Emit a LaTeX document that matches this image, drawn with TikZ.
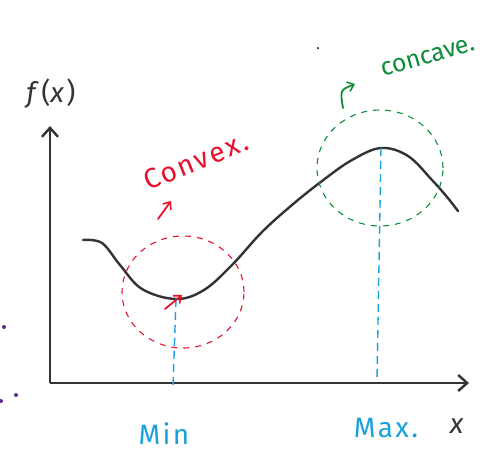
\documentclass[tikz,border=0pt]{standalone}
\usepackage{fontspec}
\setmainfont{Fira Sans}
\usetikzlibrary{arrows.meta, positioning}
\definecolor{inkblack}{HTML}{333333}
\definecolor{inkred}{HTML}{E8112D}
\definecolor{inkgreen}{HTML}{0E8C3A}
\definecolor{inkblue}{HTML}{1BA1DE}
\definecolor{inkpurple}{HTML}{5B2C8F}

\begin{document}
\begin{tikzpicture}[x=1pt, y=-1pt,
    axis/.style={line width=2.6pt, color=inkblack,
      -{Straight Barb[length=9pt, width=16pt, line width=2.4pt]}},
    curve/.style={line width=2.4pt, color=inkblack, line cap=round},
    zone/.style={line width=1.1pt, dash pattern=on 6pt off 6pt},
    guide/.style={line width=1.4pt, color=inkblue, dash pattern=on 8pt off 5pt},
    pointer/.style={line width=1.8pt, line cap=round,
      -{Straight Barb[length=6pt, width=10pt, line width=1.6pt]}},
    label/.style={font=\fontsize{28}{30}\selectfont\addfontfeatures{LetterSpace=8},
      inner sep=0pt},
    dot/.style={circle, fill=inkpurple, inner sep=0pt, minimum size=4pt},
]
\useasboundingbox (0,0) rectangle (493,451);
% Axes
\coordinate (origin) at (50,383);
\coordinate (ytop) at (50,126);
\coordinate (xend) at (469,383);
\draw[axis] (origin) -- (ytop);
\draw[axis] (origin) -- (xend);
\node[label, color=inkblack] (fx) at (51,94) {\textit{f}(\textit{x})};
\node[label, color=inkblack] (xlab) at (458,426) {\textit{x}};
% Curve
\coordinate (minpt) at (176,299);
\coordinate (maxpt) at (381,148);
\draw[curve] plot[smooth, tension=0.6] coordinates {
    (83,240) (102,243) (120,265) (142,289) (minpt) (204,290) (232,265)
    (262,232) (292,205) (322,181) (352,160) (maxpt) (408,156) (432,180)
    (447,197) (458,211)};
% Regions
\draw[zone, color=inkred] (183,292) ellipse [x radius=61pt, y radius=56pt];
\draw[zone, color=inkgreen] (380,168) ellipse [x radius=63pt, y radius=58pt];
% Min and max guides
\coordinate (minfoot) at (173,386);
\coordinate (maxfoot) at (377,381);
\draw[guide] (minpt) -- (minfoot);
\draw[guide] (maxpt) -- (maxfoot);
\node[label, color=inkblue] (minlab) at (164,434) {Min};
\node[label, color=inkblue] (maxlab) at (386,428) {Max.};
% Captions
\node[label, color=inkred, rotate=22] (convex) at (196,161) {Convex.};
\node[label, color=inkgreen, rotate=16,
      font=\fontsize{25}{27}\selectfont] (concave) at (428,57) {concave.};
\coordinate (redtail) at (158,219);
\coordinate (redhead) at (171,201);
\draw[pointer, color=inkred] (redtail) -- (redhead);
\coordinate (mintail) at (165,309);
\coordinate (minhead) at (182,295);
\draw[pointer, color=inkred] (mintail) -- (minhead);
\coordinate (greentail) at (343,108);
\coordinate (greenhead) at (355,84);
\draw[pointer, color=inkgreen] (greentail) .. controls (340,90) .. (greenhead);
% Stray marks
\node[dot] (d1) at (4,327) {};
\node[dot] (d2) at (16,395) {};
\node[dot] (d3) at (1,401) {};
\node[dot, fill=inkblack, minimum size=2.5pt] (d4) at (318,48) {};
\end{tikzpicture}
\end{document}
